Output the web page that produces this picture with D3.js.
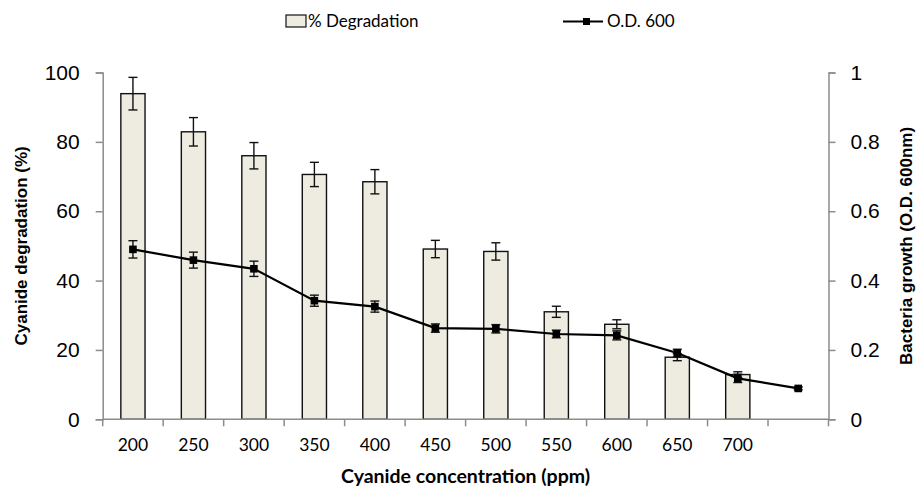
<!DOCTYPE html>
<html>
<head>
<meta charset="utf-8">
<script src="https://cdn.jsdelivr.net/npm/d3@7"></script>
<style>
  body { margin: 0; background: #fff; }
  svg { display: block; }
</style>
</head>
<body>
<div id="chart"></div>
<script>
// categories (last one has no label)
var concentrations = ["200", "250", "300", "350", "400", "450", "500", "550", "600", "650", "700", ""];
var degradation    = [93.9, 82.9, 76.0, 70.6, 68.5, 49.1, 48.4, 31.0, 27.4, 17.9, 12.9, 0];
var degradationErr = [4.7, 4.1, 3.8, 3.5, 3.5, 2.5, 2.5, 1.6, 1.3, 1.0, 0.8, 0];
var od600          = [0.490, 0.459, 0.434, 0.342, 0.325, 0.263, 0.261, 0.246, 0.242, 0.191, 0.118, 0.089];
var od600Err       = [0.025, 0.023, 0.022, 0.016, 0.016, 0.012, 0.012, 0.011, 0.013, 0.011, 0.012, 0.004];
var leftTicks  = [0, 20, 40, 60, 80, 100];
var rightTicks = [0, 0.2, 0.4, 0.6, 0.8, 1];

var W = 916, H = 488;
var x0 = 102.7, x1 = 828.5, yTop = 72.5, yBot = 419.3;

var svg = d3.select("#chart").append("svg")
    .attr("width", W)
    .attr("height", H);

var x = d3.scaleBand()
    .domain(d3.range(concentrations.length))
    .range([x0, x1]);

var yL = d3.scaleLinear().domain([0, 100]).range([yBot, yTop]);
var yR = d3.scaleLinear().domain([0, 1]).range([yBot, yTop]);

var axisColor = "#8c8c8c";
var barW = x.bandwidth() * 0.4;

// bars
svg.selectAll("rect.bar")
    .data(degradation)
    .enter()
    .append("rect")
    .attr("class", "bar")
    .attr("x", function(d, i) { return x(i) + x.bandwidth() / 2 - barW / 2; })
    .attr("y", function(d) { return yL(d); })
    .attr("width", barW)
    .attr("height", function(d) { return yBot - yL(d); })
    .style("fill", "#eeece1")
    .style("stroke", "#111")
    .style("stroke-width", 1.4);

// bar error bars
var barErr = svg.append("g");
degradation.forEach(function(d, i) {
    if (degradationErr[i] <= 0) return;
    var cx = x(i) + x.bandwidth() / 2;
    var top = yL(d + degradationErr[i]), bot = yL(d - degradationErr[i]);
    barErr.append("line").attr("x1", cx).attr("x2", cx).attr("y1", top).attr("y2", bot);
    barErr.append("line").attr("x1", cx - 4.5).attr("x2", cx + 4.5).attr("y1", top).attr("y2", top);
    barErr.append("line").attr("x1", cx - 4.5).attr("x2", cx + 4.5).attr("y1", bot).attr("y2", bot);
});
barErr.selectAll("line").style("stroke", "#111").style("stroke-width", 1.4);

// axes
var gL = svg.append("g")
    .attr("transform", "translate(" + x0 + ",0)")
    .call(d3.axisLeft(yL).tickValues(leftTicks).tickSize(7).tickPadding(16).tickFormat(d3.format("d")));
var gR = svg.append("g")
    .attr("transform", "translate(" + x1 + ",0)")
    .call(d3.axisRight(yR).tickValues(rightTicks).tickSize(7).tickPadding(15).tickFormat(function(d) { return d === 0 || d === 1 ? d : d3.format(".1f")(d); }));
[gL, gR].forEach(function(g) {
    g.select(".domain").attr("stroke", axisColor).attr("stroke-width", 1.5);
    g.selectAll(".tick line").attr("stroke", axisColor).attr("stroke-width", 1.5);
    g.selectAll(".tick text")
        .attr("fill", "#000")
        .style("font-family", "'Liberation Sans', Arial, sans-serif")
        .style("font-size", "21px");
});

// x axis: ticks between categories
var gX = svg.append("g").attr("transform", "translate(0," + yBot + ")");
gX.append("line").attr("x1", x0).attr("x2", x1).attr("y1", 0).attr("y2", 0)
    .attr("stroke", axisColor).attr("stroke-width", 1.5);
var boundaries = d3.range(concentrations.length + 1).map(function(i) { return x0 + i * x.bandwidth(); });
gX.selectAll("line.tk")
    .data(boundaries)
    .enter()
    .append("line")
    .attr("class", "tk")
    .attr("x1", function(d) { return d; })
    .attr("x2", function(d) { return d; })
    .attr("y1", 0)
    .attr("y2", 7)
    .attr("stroke", axisColor)
    .attr("stroke-width", 1.5);
gX.selectAll("text")
    .data(concentrations)
    .enter()
    .append("text")
    .attr("x", function(d, i) { return x(i) + x.bandwidth() / 2; })
    .attr("y", 32)
    .attr("text-anchor", "middle")
    .style("font-family", "Lato, 'Open Sans', sans-serif")
    .style("font-size", "17.5px")
    .text(function(d) { return d; });

// line series
var cxOf = function(i) { return x(i) + x.bandwidth() / 2; };
var line = d3.line()
    .x(function(d, i) { return cxOf(i); })
    .y(function(d) { return yR(d); });
svg.append("path")
    .datum(od600)
    .attr("d", line)
    .style("fill", "none")
    .style("stroke", "#000")
    .style("stroke-width", 2.2);

var odErr = svg.append("g");
od600.forEach(function(d, i) {
    var cx = cxOf(i);
    var top = yR(d + od600Err[i]), bot = yR(d - od600Err[i]);
    odErr.append("line").attr("x1", cx).attr("x2", cx).attr("y1", top).attr("y2", bot);
    odErr.append("line").attr("x1", cx - 4.5).attr("x2", cx + 4.5).attr("y1", top).attr("y2", top);
    odErr.append("line").attr("x1", cx - 4.5).attr("x2", cx + 4.5).attr("y1", bot).attr("y2", bot);
});
odErr.selectAll("line").style("stroke", "#111").style("stroke-width", 1.4);

svg.selectAll("rect.mk")
    .data(od600)
    .enter()
    .append("rect")
    .attr("class", "mk")
    .attr("x", function(d, i) { return cxOf(i) - 3.8; })
    .attr("y", function(d) { return yR(d) - 3.8; })
    .attr("width", 7.6)
    .attr("height", 7.6)
    .style("fill", "#000");

// axis titles
svg.append("text")
    .attr("transform", "translate(27," + (yTop + yBot) / 2 + ") rotate(-90)")
    .attr("text-anchor", "middle")
    .style("font-family", "'Liberation Sans', Arial, sans-serif")
    .style("font-weight", "bold")
    .style("font-size", "17px")
    .text("Cyanide degradation (%)");
svg.append("text")
    .attr("transform", "translate(912," + (yTop + yBot) / 2 + ") rotate(-90)")
    .attr("text-anchor", "middle")
    .style("font-family", "'Liberation Sans', Arial, sans-serif")
    .style("font-weight", "bold")
    .style("font-size", "17px")
    .text("Bacteria growth (O.D. 600nm)");
svg.append("text")
    .attr("x", (x0 + x1) / 2)
    .attr("y", 483)
    .attr("text-anchor", "middle")
    .style("font-family", "Lato, 'Open Sans', sans-serif")
    .style("font-weight", "bold")
    .style("font-size", "19.5px")
    .text("Cyanide concentration (ppm)");

// legend
var lg = svg.append("g");
lg.append("rect").attr("x", 286).attr("y", 15).attr("width", 20).attr("height", 12)
    .style("fill", "#eeece1").style("stroke", "#111").style("stroke-width", 1.2);
lg.append("text").attr("x", 308).attr("y", 27)
    .style("font-family", "Lato, 'Open Sans', sans-serif").style("font-size", "17px")
    .text("% Degradation");
lg.append("line").attr("x1", 563).attr("x2", 603).attr("y1", 21.5).attr("y2", 21.5)
    .style("stroke", "#000").style("stroke-width", 2.2);
lg.append("rect").attr("x", 583).attr("y", 18).attr("width", 7).attr("height", 7).style("fill", "#000");
lg.append("text").attr("x", 607).attr("y", 27)
    .style("font-family", "Lato, 'Open Sans', sans-serif").style("font-size", "17px")
    .text("O.D. 600");
</script>
</body>
</html>
